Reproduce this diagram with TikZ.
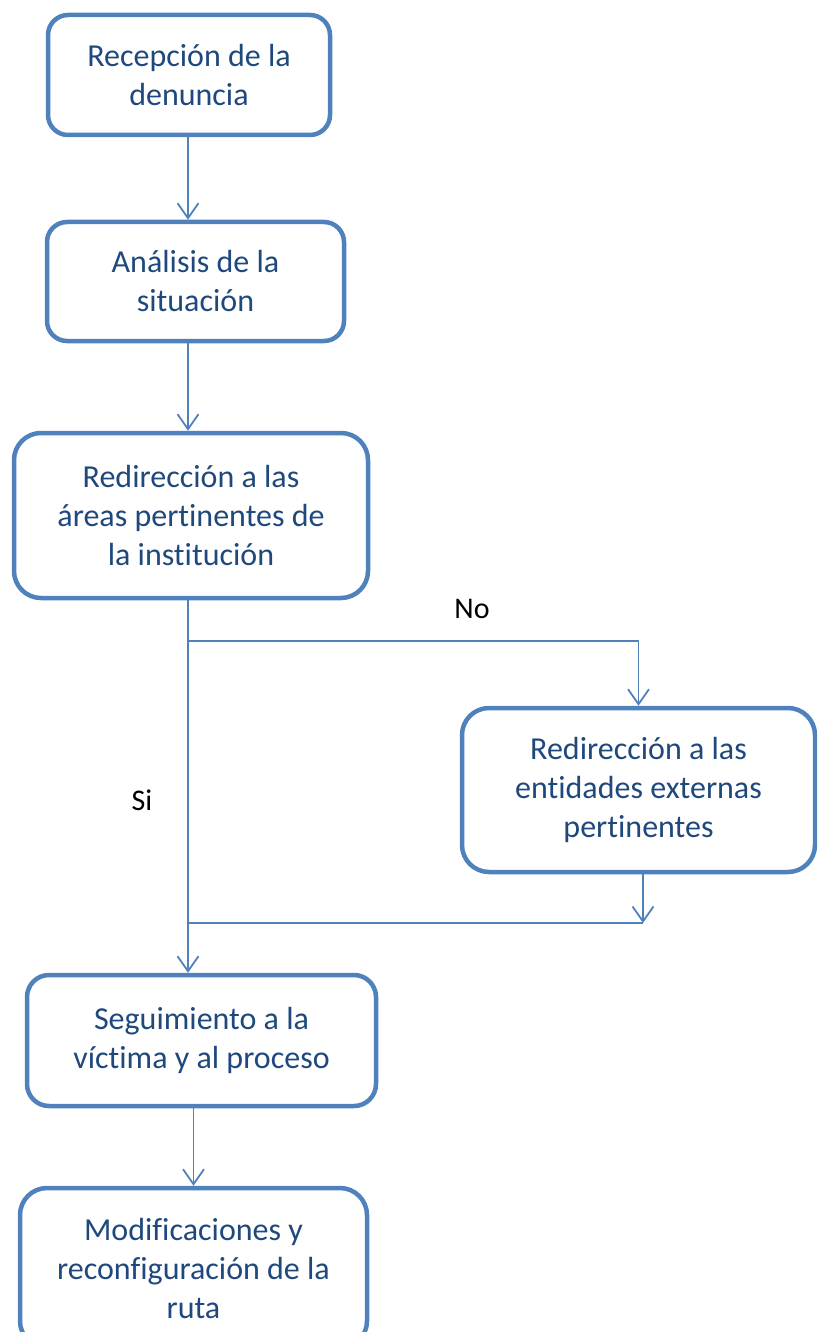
\documentclass[tikz,border=0pt]{standalone}
\usepackage{fontspec}
\setmainfont[Ligatures=NoCommon]{Carlito}
\usetikzlibrary{arrows.meta}
\definecolor{boxblue}{RGB}{79,129,189}
\definecolor{textblue}{RGB}{31,73,125}

\begin{document}
\begin{tikzpicture}
        [x=1pt,y=-1pt,
        every node/.style={inner sep=0,font=\fontsize{32}{39}\selectfont},
        box/.style={draw=boxblue,line width=4.5pt,fill=white,text=textblue,align=center},
        conn/.style={draw=boxblue,line width=1.8pt,-{Straight Barb[length=15pt,width=21pt,line width=1.8pt]}},
        link/.style={draw=boxblue,line width=1.8pt}]

        \useasboundingbox (0,0) rectangle (817,1332);
        \clip (0,0) rectangle (817,1332);

        \coordinate (trunk) at (188,0);
        \coordinate (split) at (188,641);
        \coordinate (join) at (643,923);

        \node[box,rounded corners=20pt,minimum width=282pt,minimum height=120pt] (v1) at (189,75) {Recepción de la\\denuncia};
        \node[box,rounded corners=20pt,minimum width=297pt,minimum height=119pt] (v2) at (195.5,281.5) {Análisis de la\\situación};
        \node[box,rounded corners=27pt,minimum width=354pt,minimum height=165pt] (v3) at (191,515.5) {Redirección a las\\áreas pertinentes de\\la institución};
        \node[box,rounded corners=27pt,minimum width=353pt,minimum height=164pt] (v5) at (638.5,790) {Redirección a las\\entidades externas\\pertinentes};
        \node[box,rounded corners=22pt,minimum width=349pt,minimum height=131pt] (v4) at (201.5,1040.5) {Seguimiento a la\\víctima y al proceso};
        \node[box,rounded corners=27pt,minimum width=347pt,minimum height=160pt] (v6) at (193.5,1268) {Modificaciones y\\reconfiguración de la\\ruta};

        \node[font=\fontsize{30}{35}\selectfont] (no) at (472,609) {No};
        \node[font=\fontsize{30}{35}\selectfont] (si) at (142,800) {Si};

        \draw[conn] (v1.south -| trunk) -- (v2.north -| trunk);
        \draw[conn] (v2.south -| trunk) -- (v3.north -| trunk);
        \draw[conn] (v3.south -| trunk) -- (v4.north -| trunk);
        \draw[conn] (split) -| (v5.north);
        \draw[conn] (v5.south -| join) -- (join);
        \draw[link] (join) -- (join -| trunk);
        \draw[conn] (v6.north |- v4.south) -- (v6.north);

      \end{tikzpicture}
\end{document}
